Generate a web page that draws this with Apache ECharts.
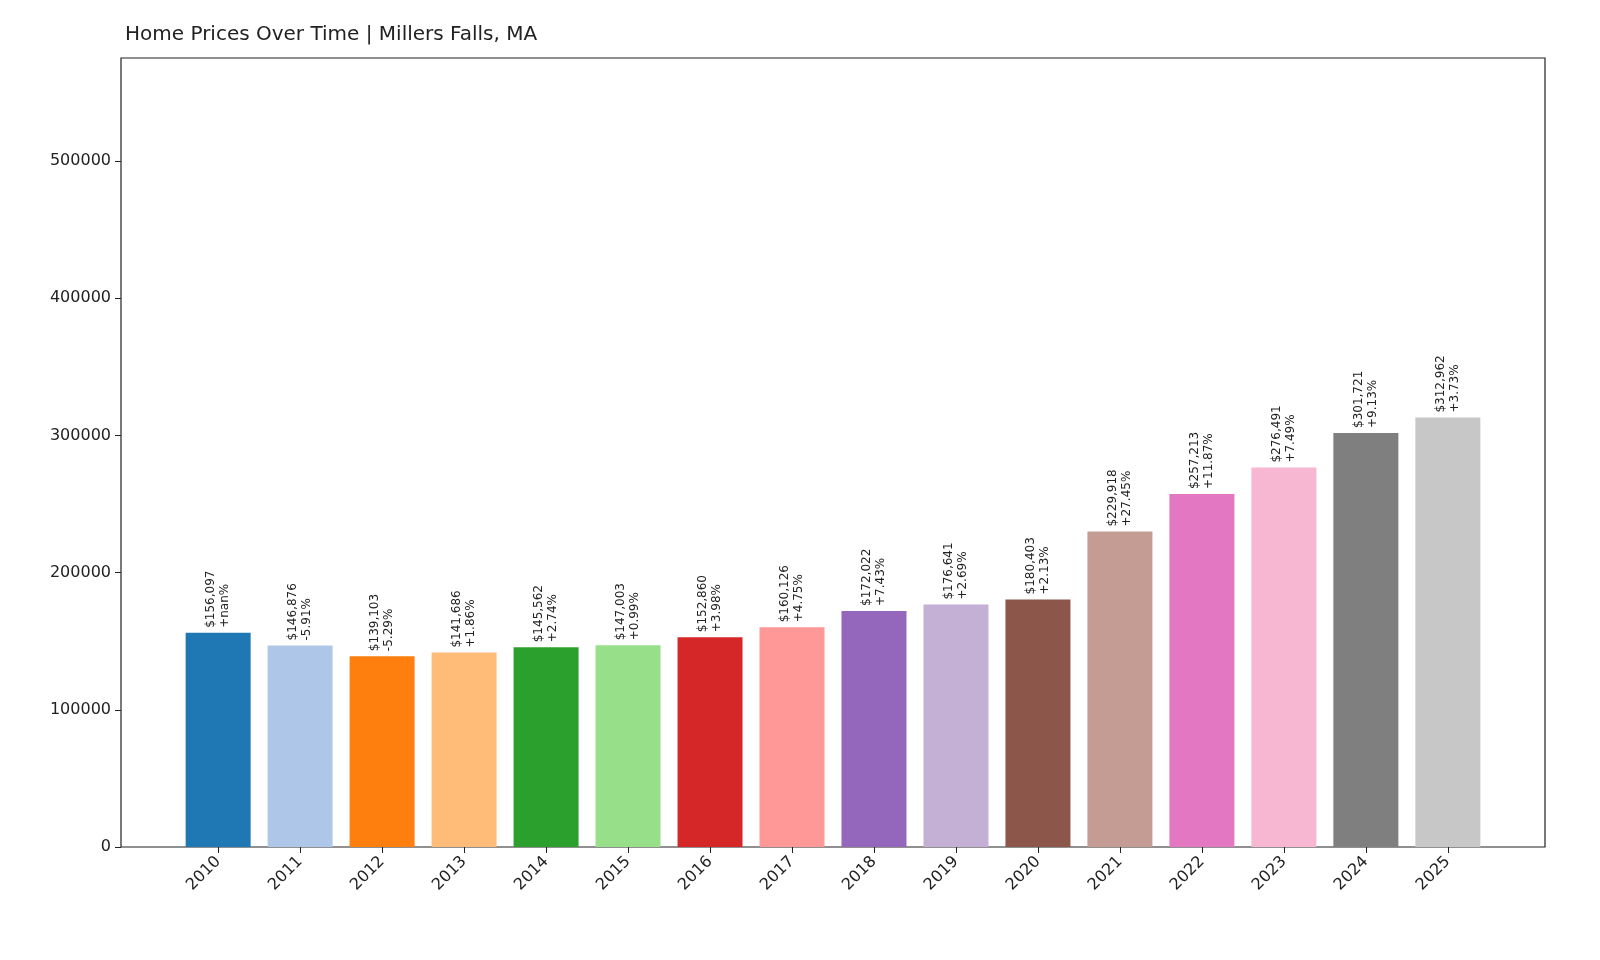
<!DOCTYPE html>
<html>
<head>
<meta charset="utf-8">
<script src="https://cdn.jsdelivr.net/npm/echarts@6/dist/echarts.min.js"></script>
<style>html,body{margin:0;padding:0;background:#fff}#main{width:1600px;height:960px}</style>
</head>
<body>
<div id="main"></div>
<script>
var years = ["2010","2011","2012","2013","2014","2015","2016","2017","2018","2019","2020","2021","2022","2023","2024","2025"];
var prices = [156097,146876,139103,141686,145562,147003,152860,160126,172022,176641,180403,229918,257213,276491,301721,312962];
var changes = ["+nan%","-5.91%","-5.29%","+1.86%","+2.74%","+0.99%","+3.98%","+4.75%","+7.43%","+2.69%","+2.13%","+27.45%","+11.87%","+7.49%","+9.13%","+3.73%"];
var colors = ["#1f77b4","#aec7e8","#ff7f0e","#ffbb78","#2ca02c","#98df8a","#d62728","#ff9896","#9467bd","#c5b0d5","#8c564b","#c49c94","#e377c2","#f7b6d2","#7f7f7f","#c7c7c7"];

var chart = echarts.init(document.getElementById("main"));
var idx = years.map(function (y, i) { return i; });

chart.setOption({
    backgroundColor: "#fff",
    animation: false,
    title: {
        text: "Home Prices Over Time | Millers Falls, MA",
        left: 120, top: 20,
        textStyle: { fontFamily: "DejaVu Sans", fontSize: 20, fontWeight: "normal", color: "#222" }
    },
    grid: { left: 121, right: 55, top: 58, bottom: 113, show: true, borderColor: "#222", borderWidth: 1.2 },
    xAxis: {
        type: "value", min: -1.185, max: 16.185,
        splitLine: { show: false },
        axisLine: { show: false, onZero: false },
        axisTick: { show: true, customValues: idx, length: 6, lineStyle: { color: "#222" } },
        axisLabel: {
            customValues: idx, rotate: 45, fontSize: 16, fontFamily: "DejaVu Sans", color: "#222", margin: 12,
            formatter: function (v) { return years[Math.round(v)]; }
        }
    },
    yAxis: {
        type: "value", min: 0, max: 575000, interval: 100000,
        splitLine: { show: false },
        axisLine: { show: false, onZero: false },
        axisTick: { show: true, length: 6, lineStyle: { color: "#222" } },
        axisLabel: {
            showMaxLabel: false, fontSize: 16, fontFamily: "DejaVu Sans", color: "#222", margin: 10,
            formatter: function (v) { return String(v); }
        }
    },
    series: [{
        type: "bar",
        barWidth: 65,
        data: prices.map(function (p, i) {
            return { value: [i, p], itemStyle: { color: colors[i] } };
        }),
        label: {
            show: true, position: "top", rotate: 90, align: "left", verticalAlign: "middle",
            distance: 5, fontSize: 12, fontFamily: "DejaVu Sans", color: "#222", lineHeight: 14,
            formatter: function (p) {
                return "$" + prices[p.dataIndex].toLocaleString("en-US") + "\n" + changes[p.dataIndex];
            }
        }
    }]
});
</script>
</body>
</html>
